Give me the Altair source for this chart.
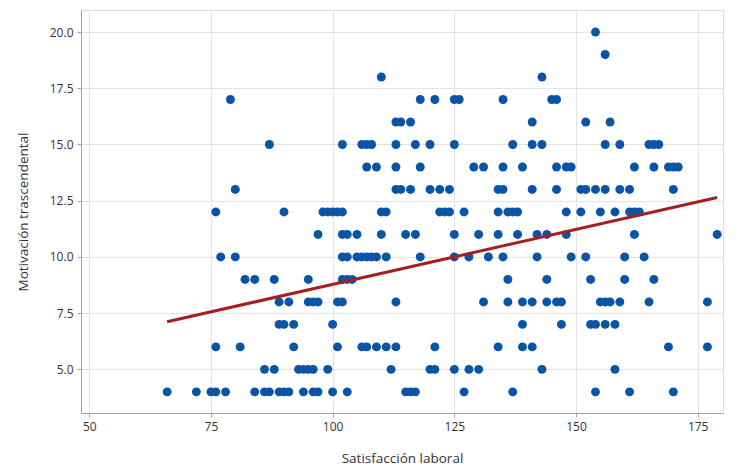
import altair as alt
import pandas as pd

# Points grouped by Motivación trascendental (y) level -> Satisfacción laboral (x) values
y20 = [154]
y19 = [156]
y18 = [110, 143]
y17 = [79, 118, 121, 125, 126, 135, 145, 146]
y16 = [113, 114, 116, 141, 152, 157]
y15 = [87, 102, 106, 107, 108, 113, 117, 120, 125, 137, 141, 143, 156, 159, 165, 166, 167]
y14 = [107, 109, 113, 118, 129, 131, 135, 139, 146, 148, 149, 162, 166, 169, 170, 171]
y13 = [80, 113, 114, 116, 120, 122, 124, 134, 135, 141, 146, 151, 152, 154, 156, 159, 161, 170]
y12 = [76, 90, 98, 99, 100, 101, 102, 110, 111, 122, 123, 124, 127, 134, 136, 137, 138,
       148, 151, 155, 158, 161, 162, 163]
y11 = [97, 102, 103, 105, 110, 115, 117, 125, 130, 134, 138, 142, 144, 148, 162, 179]
y10 = [77, 80, 102, 103, 105, 106, 107, 108, 109, 111, 118, 125, 128, 132, 135, 142,
       149, 152, 160, 164]
y9 = [82, 84, 88, 95, 102, 103, 104, 136, 144, 153, 160, 166]
y8 = [89, 91, 95, 96, 97, 101, 102, 113, 131, 136, 139, 141, 144, 146, 147, 155, 156,
      157, 159, 165, 177]
y7 = [89, 90, 92, 100, 139, 147, 153, 154, 156, 158]
y6 = [76, 81, 92, 101, 106, 107, 109, 111, 113, 121, 134, 139, 141, 169, 177]
y5 = [86, 88, 93, 94, 95, 96, 99, 112, 120, 121, 125, 128, 130, 143, 158]
y4 = [66, 72, 75, 76, 78, 84, 86, 87, 89, 90, 91, 94, 96, 97, 100, 103, 115, 116, 117,
      127, 137, 154, 161, 170]

levels = {20: y20, 19: y19, 18: y18, 17: y17, 16: y16, 15: y15, 14: y14, 13: y13,
          12: y12, 11: y11, 10: y10, 9: y9, 8: y8, 7: y7, 6: y6, 5: y5, 4: y4}

# Fitted regression line (ends at data extent)
fit_x = [66, 179]
fit_y = [7.12, 12.64]

x_ticks = [50, 75, 100, 125, 150, 175]
y_ticks = [5.0, 7.5, 10.0, 12.5, 15.0, 17.5, 20.0]

rows = []
for yv, xs in levels.items():
    for xv in xs:
        rows.append({"sat": xv, "mot": yv})
pts = pd.DataFrame(rows)
fit = pd.DataFrame({"sat": fit_x, "mot": fit_y})

FONT = "Open Sans"
xscale = alt.Scale(domain=[48.3, 180.2], nice=False, zero=False)
yscale = alt.Scale(domain=[3.06, 20.98], nice=False, zero=False)

common = dict(grid=True, gridColor="#e3e3e3", domainColor="#a0a0a0", tickColor="#a0a0a0",
              tickSize=4, labelFont=FONT, labelFontSize=12, labelColor="#333333",
              titleFont=FONT, titleFontSize=13.5, titleFontWeight="normal",
              titleColor="#333333", labelPadding=4)
xaxis = alt.Axis(values=x_ticks, title="Satisfacción laboral", titlePadding=19, **common)
yaxis = alt.Axis(values=y_ticks, format=".1f", title="Motivación trascendental",
                 titlePadding=19, **common)

points = alt.Chart(pts).mark_circle(size=80, opacity=1, color="#0a54a5").encode(
    x=alt.X("sat:Q", scale=xscale, axis=xaxis),
    y=alt.Y("mot:Q", scale=yscale, axis=yaxis),
)

line = alt.Chart(fit).mark_line(color="#a51e22", strokeWidth=3).encode(
    x=alt.X("sat:Q", scale=xscale),
    y=alt.Y("mot:Q", scale=yscale),
)

chart = alt.layer(points, line).properties(
    width=642, height=403,
    autosize=alt.AutoSizeParams(type="none"),
    padding={"left": 73, "top": 2, "right": 8, "bottom": 58},
).configure_view(stroke="#a0a0a0", strokeWidth=1.5).configure(background="white")

chart.save("out.html", embed_options={"renderer": "svg", "actions": False})
